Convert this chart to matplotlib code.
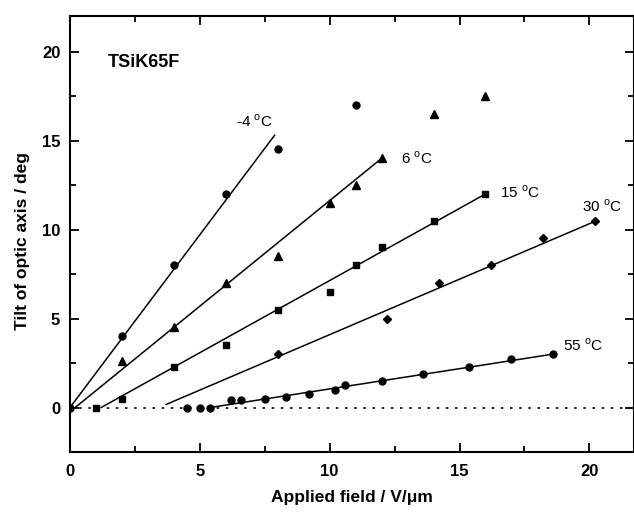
import matplotlib
matplotlib.use("Agg")
import matplotlib.pyplot as plt
from matplotlib.ticker import MultipleLocator

plt.rcParams["font.family"] = ["Liberation Sans", "DejaVu Sans"]
plt.rcParams["mathtext.fontset"] = "custom"
plt.rcParams["mathtext.rm"] = "Liberation Sans"

# -4 C (circles)
m4_x = [0, 2, 4, 6, 8, 11]
m4_y = [0, 4, 8, 12, 14.5, 17]
# 6 C (triangles)
t6_x = [2, 4, 6, 8, 10, 11, 12, 14, 16]
t6_y = [2.6, 4.5, 7, 8.5, 11.5, 12.5, 14, 16.5, 17.5]
# 15 C (squares)
t15_x = [1, 2, 4, 6, 8, 10, 11, 12, 14, 16]
t15_y = [0, 0.5, 2.25, 3.5, 5.5, 6.5, 8, 9, 10.5, 12]
# 30 C (diamonds)
t30_x = [8, 12.2, 14.2, 16.2, 18.2, 20.2]
t30_y = [3, 5, 7, 8, 9.5, 10.5]
# 55 C (circles)
t55_x = [4.5, 5.0, 5.4, 6.2, 6.6, 7.5, 8.3, 9.2, 10.2, 10.6, 12, 13.6, 15.35, 17, 18.6]
t55_y = [0, 0, 0, 0.43, 0.43, 0.5, 0.6, 0.78, 1.0, 1.25, 1.5, 1.9, 2.25, 2.75, 3.0]

# fitted lines: start and end points
fit_x = [(0, 7.88), (0.2, 12), (1.2, 16), (3.7, 20.2), (5.4, 18.6)]
fit_y = [(0, 15.3), (0, 14), (0, 12), (0.17, 10.45), (0, 3.0)]

labels = ["-4 $^{\\rm o}$C", "6 $^{\\rm o}$C", "15 $^{\\rm o}$C", "30 $^{\\rm o}$C", "55 $^{\\rm o}$C"]
label_x = [6.4, 12.75, 16.55, 19.7, 19.0]
label_y = [16.1, 14.0, 12.1, 11.3, 3.5]

fig = plt.figure(figsize=(6.34, 5.12), dpi=100)
ax = fig.add_axes([70 / 634, 1 - 452 / 512, 564 / 634, 436 / 512])

ax.axhline(0, color="black", lw=1.2, linestyle=(0, (1.5, 4)), zorder=1)

for xs, ys in zip(fit_x, fit_y):
    ax.plot(xs, ys, color="black", lw=1.1, zorder=2)

ax.plot(m4_x, m4_y, "o", color="black", ms=5, zorder=3)
ax.plot(t6_x, t6_y, "^", color="black", ms=6, zorder=3)
ax.plot(t15_x, t15_y, "s", color="black", ms=4.5, zorder=3)
ax.plot(t30_x, t30_y, "D", color="black", ms=4.5, zorder=3)
ax.plot(t55_x, t55_y, "o", color="black", ms=5, zorder=3)

for txt, lx, ly in zip(labels, label_x, label_y):
    ax.text(lx, ly, txt, fontsize=11, ha="left", va="center")

ax.text(1.45, 19.4, "TSiK65F", fontsize=13, fontweight="bold", ha="left", va="center")

ax.set_xlim(0, 21.72)
ax.set_ylim(-2.5, 22)
ax.xaxis.set_major_locator(MultipleLocator(5))
ax.xaxis.set_minor_locator(MultipleLocator(2.5))
ax.yaxis.set_major_locator(MultipleLocator(5))
ax.yaxis.set_minor_locator(MultipleLocator(2.5))
ax.tick_params(which="both", direction="in", top=True, right=True, width=1.3)
ax.tick_params(which="major", length=6.5, labelsize=12)
ax.tick_params(which="minor", length=4)
ax.tick_params(axis="x", pad=9)
ax.tick_params(axis="y", pad=7)
for lab in ax.get_xticklabels() + ax.get_yticklabels():
    lab.set_fontweight("bold")
for sp in ax.spines.values():
    sp.set_linewidth(1.5)

ax.set_xlabel("Applied field / V/\u03bcm", fontsize=12.5, fontweight="bold", va="center")
ax.set_ylabel("Tilt of optic axis / deg", fontsize=12.5, fontweight="bold", va="center")
ax.xaxis.set_label_coords(0.5, -0.105)
ax.yaxis.set_label_coords(-0.085, 0.484)

fig.savefig("out.png", dpi=100)
